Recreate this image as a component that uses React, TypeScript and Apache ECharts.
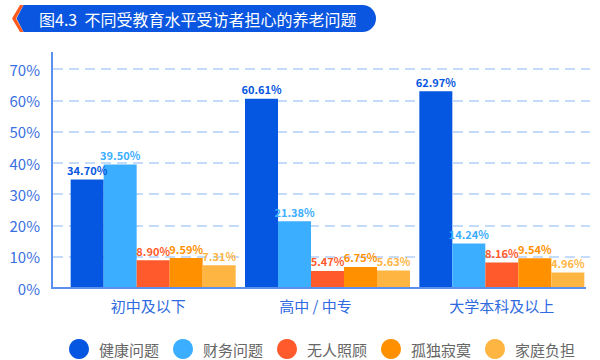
import React, { useEffect, useRef } from "react";
import * as echarts from "echarts";

const categories = ["初中及以下", "高中 / 中专", "大学本科及以上"];
const seriesNames = ["健康问题", "财务问题", "无人照顾", "孤独寂寞", "家庭负担"];
const health = [34.7, 60.61, 62.97];
const finance = [39.5, 21.38, 14.24];
const noCare = [8.9, 5.47, 8.16];
const lonely = [9.59, 6.75, 9.54];
const family = [7.31, 5.63, 4.96];
const yTicks = [0, 10, 20, 30, 40, 50, 60, 70];
const colors = ["#0556e0", "#3caeff", "#ff5a2b", "#ff9100", "#ffb542"];
const title = "图4.3  不同受教育水平受访者担心的养老问题";

const FONT = '"Noto Sans CJK SC", "Noto Sans", sans-serif';

export default function App() {
  const ref = useRef<HTMLDivElement>(null);
  useEffect(() => {
    if (!ref.current) return;
    const chart = echarts.init(ref.current, undefined, { renderer: "svg" });
    const values = [health, finance, noCare, lonely, family];
    const catPad = [10, 24, 0];
    const richBase = { fontSize: 15, color: "#2f6ae0", fontFamily: FONT };
    const option: any = {
      animation: false,
      textStyle: { fontFamily: FONT },
      grid: { left: 66, right: 11, top: 69.3, bottom: 72 },
      legend: {
        left: 64,
        top: 334,
        icon: "circle",
        itemWidth: 20,
        itemHeight: 20,
        itemGap: 14,
        textStyle: { color: "#666", fontSize: 15, fontFamily: FONT, padding: [0, 0, 0, 5] },
        data: seriesNames,
      },
      xAxis: {
        type: "category",
        data: categories,
        axisLine: { show: false },
        axisTick: { show: false },
        axisLabel: {
          interval: 0,
          margin: 10,
          fontSize: 15,
          color: "#2f6ae0",
          fontFamily: FONT,
          formatter: (v: string) => `{c${categories.indexOf(v)}|${v}}`,
          rich: {
            c0: { ...richBase, padding: [0, catPad[0], 0, 0] },
            c1: { ...richBase, padding: [0, catPad[1], 0, 0] },
            c2: { ...richBase, padding: [0, catPad[2], 0, 0] },
          },
        },
      },
      yAxis: {
        type: "value",
        min: yTicks[0],
        max: yTicks[yTicks.length - 1],
        interval: 10,
        offset: 14,
        axisLine: { show: false },
        axisTick: { show: false },
        splitLine: { show: false },
        axisLabel: {
          margin: 12,
          fontSize: 15,
          color: "#3a70e0",
          fontFamily: FONT,
          formatter: "{value}%",
        },
      },
      series: seriesNames.map((name, i) => ({
        name,
        type: "bar",
        data: values[i],
        barWidth: 33,
        barGap: "0%",
        itemStyle: { color: colors[i] },
        label: {
          show: true,
          position: "top",
          distance: 4,
          color: colors[i],
          fontSize: 11,
          fontWeight: "bold",
          fontFamily: FONT,
          formatter: (p: any) => `${p.value.toFixed(2)}%`,
        },
      })),
    };
    chart.setOption(option);

    const y0 = chart.convertToPixel({ yAxisIndex: 0 }, 0) as number;
    const graphics: any[] = [];
    yTicks.slice(1).forEach((t) => {
      const y = Math.round(chart.convertToPixel({ yAxisIndex: 0 }, t) as number);
      graphics.push({
        type: "line",
        z: -1,
        shape: { x1: 53, y1: y, x2: 590, y2: y },
        style: { stroke: "#c5dbfb", lineWidth: 2, lineDash: [10, 6] },
      });
    });
    graphics.push({
      type: "line",
      z: 10,
      shape: { x1: 52, y1: 52, x2: 52, y2: y0 },
      style: { stroke: "#5b8ff0", lineWidth: 2 },
    });
    graphics.push({
      type: "line",
      z: 10,
      shape: { x1: 51, y1: y0, x2: 586, y2: y0 },
      style: { stroke: "#5b8ff0", lineWidth: 2 },
    });
    // title banner
    graphics.push({
      type: "polygon",
      z: 10,
      shape: { points: [[16.5, 18.5], [23.5, 5], [40, 5], [40, 32], [23.5, 32]] },
      style: { fill: "#0a56e0" },
    });
    graphics.push({
      type: "rect",
      z: 10,
      shape: { x: 36, y: 5, width: 340, height: 27, r: [0, 13.5, 13.5, 0] },
      style: { fill: "#0a56e0" },
    });
    graphics.push({
      type: "polygon",
      z: 11,
      shape: { points: [[12, 18.5], [20, 5], [23.5, 5], [16, 18.5], [23.5, 32], [20, 32]] },
      style: { fill: "#ff5a1f" },
    });
    graphics.push({
      type: "text",
      z: 12,
      x: 39,
      y: 18.5,
      style: {
        text: title,
        fill: "#ffffff",
        fontSize: 16,
        fontFamily: FONT,
        verticalAlign: "middle",
        align: "left",
      },
    });
    chart.setOption({ graphic: graphics });

    return () => chart.dispose();
  }, []);
  return <div ref={ref} style={{ width: 600, height: 360, position: "absolute", left: 0, top: 0 }} />;
}
